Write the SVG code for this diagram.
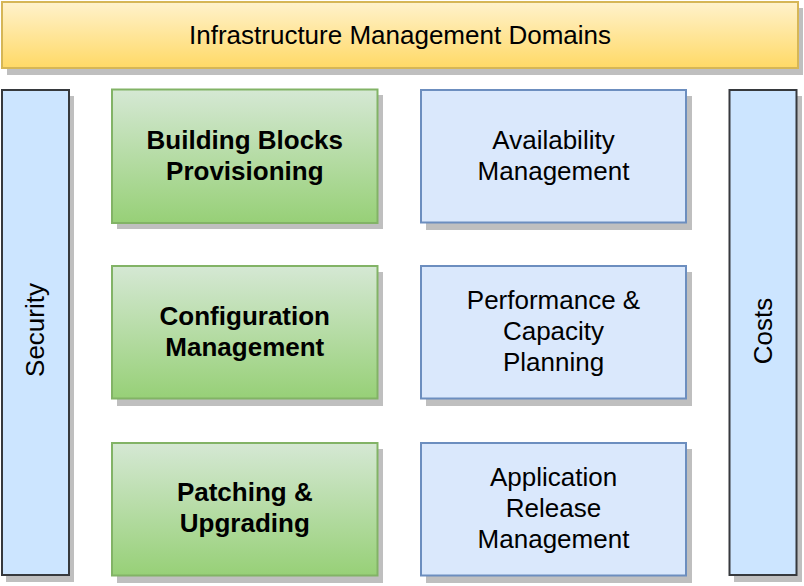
<svg xmlns="http://www.w3.org/2000/svg" width="804" height="586" viewBox="0 0 804 586">
  <defs>
    <linearGradient id="gradYellow" x1="0" y1="0" x2="0" y2="1">
      <stop offset="0" stop-color="#fff2cc"/>
      <stop offset="1" stop-color="#ffd966"/>
    </linearGradient>
    <linearGradient id="gradGreen" x1="0" y1="0" x2="0" y2="1">
      <stop offset="0" stop-color="#d5e8d4"/>
      <stop offset="1" stop-color="#97d077"/>
    </linearGradient>
  </defs>
  <style>
    .shadow { fill: #bfbfbf; }
    .banner { fill: url(#gradYellow); stroke: #d6b656; stroke-width: 2; }
    .green { fill: url(#gradGreen); stroke: #82b366; stroke-width: 2; }
    .blue { fill: #dae8fc; stroke: #6c8ebf; stroke-width: 2; }
    .side { fill: #cce5ff; stroke: #36393d; stroke-width: 2; }
    text { font-family: "Liberation Sans", Arial, Helvetica, sans-serif; font-size: 26px; fill: #000; text-anchor: middle; }
    .bold { font-weight: bold; }
  </style>
  <rect width="804" height="586" fill="#ffffff"/>

  <!-- header banner -->
  <g id="header">
    <rect class="shadow" x="7" y="8" width="796" height="67"/>
    <rect class="banner" x="2" y="2" width="796" height="66"/>
    <text x="400" y="44.3">Infrastructure Management Domains</text>
  </g>

  <!-- vertical side bars -->
  <g id="security">
    <rect class="shadow" x="6" y="96" width="68" height="486"/>
    <rect class="side" x="2" y="90" width="67" height="485"/>
    <text transform="translate(43.5 330) rotate(-90)">Security</text>
  </g>
  <g id="costs">
    <rect class="shadow" x="734" y="96" width="68" height="486"/>
    <rect class="side" x="729.5" y="90" width="67" height="485"/>
    <text transform="translate(772 331) rotate(-90)">Costs</text>
  </g>

  <!-- left column -->
  <g id="building-blocks">
    <rect class="shadow" x="117" y="95" width="266" height="134"/>
    <rect class="green" x="112" y="89.5" width="265.5" height="133.5"/>
    <text class="bold" x="244.8" y="149">Building Blocks</text>
    <text class="bold" x="244.8" y="180">Provisioning</text>
  </g>
  <g id="configuration">
    <rect class="shadow" x="117" y="272" width="266" height="134"/>
    <rect class="green" x="112" y="266" width="265.5" height="132.5"/>
    <text class="bold" x="244.8" y="325">Configuration</text>
    <text class="bold" x="244.8" y="356">Management</text>
  </g>
  <g id="patching">
    <rect class="shadow" x="117" y="449" width="266" height="134"/>
    <rect class="green" x="112" y="443" width="265.5" height="132.5"/>
    <text class="bold" x="244.8" y="501">Patching &amp;</text>
    <text class="bold" x="244.8" y="532">Upgrading</text>
  </g>

  <!-- right column -->
  <g id="availability">
    <rect class="shadow" x="426" y="96" width="266" height="134"/>
    <rect class="blue" x="421" y="90" width="265" height="132.5"/>
    <text x="553.5" y="149">Availability</text>
    <text x="553.5" y="180">Management</text>
  </g>
  <g id="performance">
    <rect class="shadow" x="426" y="272" width="266" height="134"/>
    <rect class="blue" x="421" y="266" width="265" height="132.5"/>
    <text x="553.5" y="309">Performance &amp;</text>
    <text x="553.5" y="340">Capacity</text>
    <text x="553.5" y="371">Planning</text>
  </g>
  <g id="release">
    <rect class="shadow" x="426" y="449" width="266" height="134"/>
    <rect class="blue" x="421" y="443" width="265" height="132.5"/>
    <text x="553.5" y="486">Application</text>
    <text x="553.5" y="517">Release</text>
    <text x="553.5" y="548">Management</text>
  </g>

  <!-- no connectors in this layout -->
  <g id="connectors"/>
</svg>
